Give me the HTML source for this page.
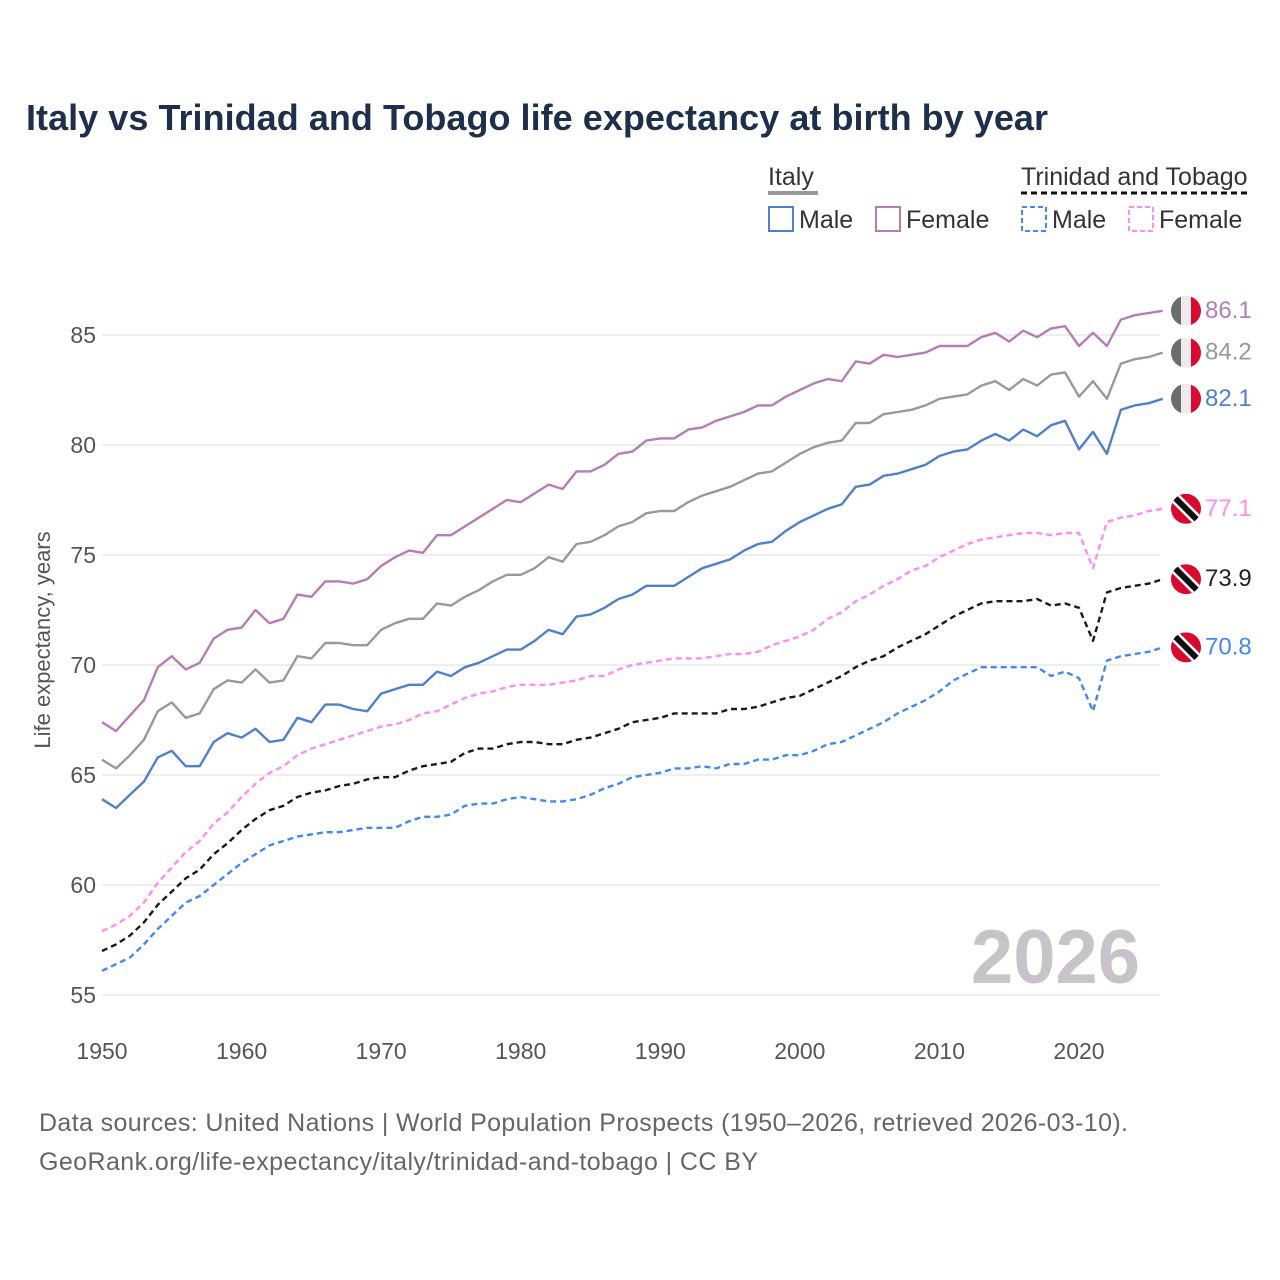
<!DOCTYPE html>
<html><head><meta charset="utf-8"><style>
body{margin:0;background:#fff;}
svg{display:block;font-family:"Liberation Sans",sans-serif;}
</style></head><body>
<svg id="chart" width="1280" height="1280" viewBox="0 0 1280 1280" xmlns="http://www.w3.org/2000/svg">
<rect width="1280" height="1280" fill="#fff"/>
<text x="26" y="130" font-size="36" font-weight="bold" fill="#1d2f4a" textLength="1022">Italy vs Trinidad and Tobago life expectancy at birth by year</text>
<g font-size="25" fill="#333">
<text x="768" y="185">Italy</text>
<line x1="768" y1="193" x2="818" y2="193" stroke="#999" stroke-width="4"/>
<rect x="769" y="207" width="24" height="24" fill="none" stroke="#5080cc" stroke-width="2"/>
<text x="799" y="228">Male</text>
<rect x="876" y="207" width="24" height="24" fill="none" stroke="#b57cb6" stroke-width="2"/>
<text x="906" y="228">Female</text>
<text x="1021" y="185">Trinidad and Tobago</text>
<line x1="1021" y1="193" x2="1249" y2="193" stroke="#111" stroke-width="3" stroke-dasharray="6,4"/>
<rect x="1022" y="207" width="24" height="24" fill="none" stroke="#4488ee" stroke-width="2" stroke-dasharray="5,3"/>
<text x="1052" y="228">Male</text>
<rect x="1129" y="207" width="24" height="24" fill="none" stroke="#ff8cf0" stroke-width="2" stroke-dasharray="5,3"/>
<text x="1159" y="228">Female</text>
</g>
<g id="grid"></g>
<text x="1140" y="983" text-anchor="end" font-size="76" font-weight="bold" fill="#c8c3c8">2026</text>
<text transform="translate(50,640) rotate(-90)" text-anchor="middle" font-size="22" fill="#555">Life expectancy, years</text>
<g id="lines"></g>
<g id="ends"></g>
<text x="39" y="1131" font-size="25" fill="#666" textLength="1089">Data sources: United Nations | World Population Prospects (1950–2026, retrieved 2026-03-10).</text>
<text x="39" y="1170" font-size="25" fill="#666" textLength="719">GeoRank.org/life-expectancy/italy/trinidad-and-tobago | CC BY</text>
</svg>
<script>
const years = Array.from({length:77},(_,i)=>1950+i);
const itFemale=[67.4,67.0,67.7,68.4,69.9,70.4,69.8,70.1,71.2,71.6,71.7,72.5,71.9,72.1,73.2,73.1,73.8,73.8,73.7,73.9,74.5,74.9,75.2,75.1,75.9,75.9,76.3,76.7,77.1,77.5,77.4,77.8,78.2,78.0,78.8,78.8,79.1,79.6,79.7,80.2,80.3,80.3,80.7,80.8,81.1,81.3,81.5,81.8,81.8,82.2,82.5,82.8,83.0,82.9,83.8,83.7,84.1,84.0,84.1,84.2,84.5,84.5,84.5,84.9,85.1,84.7,85.2,84.9,85.3,85.4,84.5,85.1,84.5,85.7,85.9,86.0,86.1];
const itTotal=[65.7,65.3,65.9,66.6,67.9,68.3,67.6,67.8,68.9,69.3,69.2,69.8,69.2,69.3,70.4,70.3,71.0,71.0,70.9,70.9,71.6,71.9,72.1,72.1,72.8,72.7,73.1,73.4,73.8,74.1,74.1,74.4,74.9,74.7,75.5,75.6,75.9,76.3,76.5,76.9,77.0,77.0,77.4,77.7,77.9,78.1,78.4,78.7,78.8,79.2,79.6,79.9,80.1,80.2,81.0,81.0,81.4,81.5,81.6,81.8,82.1,82.2,82.3,82.7,82.9,82.5,83.0,82.7,83.2,83.3,82.2,82.9,82.1,83.7,83.9,84.0,84.2];
const itMale=[63.9,63.5,64.1,64.7,65.8,66.1,65.4,65.4,66.5,66.9,66.7,67.1,66.5,66.6,67.6,67.4,68.2,68.2,68.0,67.9,68.7,68.9,69.1,69.1,69.7,69.5,69.9,70.1,70.4,70.7,70.7,71.1,71.6,71.4,72.2,72.3,72.6,73.0,73.2,73.6,73.6,73.6,74.0,74.4,74.6,74.8,75.2,75.5,75.6,76.1,76.5,76.8,77.1,77.3,78.1,78.2,78.6,78.7,78.9,79.1,79.5,79.7,79.8,80.2,80.5,80.2,80.7,80.4,80.9,81.1,79.8,80.6,79.6,81.6,81.8,81.9,82.1];
const ttFemale=[57.9,58.2,58.6,59.2,60.1,60.8,61.5,62.0,62.8,63.3,64.0,64.6,65.1,65.4,65.9,66.2,66.4,66.6,66.8,67.0,67.2,67.3,67.5,67.8,67.9,68.2,68.5,68.7,68.8,69.0,69.1,69.1,69.1,69.2,69.3,69.5,69.5,69.8,70.0,70.1,70.2,70.3,70.3,70.3,70.4,70.5,70.5,70.6,70.9,71.1,71.3,71.6,72.1,72.4,72.9,73.2,73.6,73.9,74.3,74.5,74.9,75.2,75.5,75.7,75.8,75.9,76.0,76.0,75.9,76.0,76.0,74.4,76.5,76.7,76.8,77.0,77.1];
const ttTotal=[57.0,57.3,57.7,58.3,59.1,59.7,60.3,60.7,61.4,61.9,62.5,63.0,63.4,63.6,64.0,64.2,64.3,64.5,64.6,64.8,64.9,64.9,65.2,65.4,65.5,65.6,66.0,66.2,66.2,66.4,66.5,66.5,66.4,66.4,66.6,66.7,66.9,67.1,67.4,67.5,67.6,67.8,67.8,67.8,67.8,68.0,68.0,68.1,68.3,68.5,68.6,68.9,69.2,69.5,69.9,70.2,70.4,70.8,71.1,71.4,71.8,72.2,72.5,72.8,72.9,72.9,72.9,73.0,72.7,72.8,72.6,71.1,73.3,73.5,73.6,73.7,73.9];
const ttMale=[56.1,56.4,56.7,57.3,58.0,58.6,59.2,59.5,60.0,60.5,61.0,61.4,61.8,62.0,62.2,62.3,62.4,62.4,62.5,62.6,62.6,62.6,62.9,63.1,63.1,63.2,63.6,63.7,63.7,63.9,64.0,63.9,63.8,63.8,63.9,64.1,64.4,64.6,64.9,65.0,65.1,65.3,65.3,65.4,65.3,65.5,65.5,65.7,65.7,65.9,65.9,66.1,66.4,66.5,66.8,67.1,67.4,67.8,68.1,68.4,68.8,69.3,69.6,69.9,69.9,69.9,69.9,69.9,69.5,69.7,69.4,67.9,70.2,70.4,70.5,70.6,70.8];
const yTicks=[55,60,65,70,75,80,85];
const xTicks=[1950,1960,1970,1980,1990,2000,2010,2020];

const NS="http://www.w3.org/2000/svg";
const xs=y=>102+(y-1950)*(977/70);
const ys=v=>335+(85-v)*22;
function mk(tag,attrs,parent){const e=document.createElementNS(NS,tag);for(const k in attrs)e.setAttribute(k,attrs[k]);parent.appendChild(e);return e;}
const grid=document.getElementById('grid');
yTicks.forEach(t=>{
  const l=mk('line',{x1:102,x2:1160,y1:ys(t),y2:ys(t),stroke:'#e8e8e8','stroke-width':1.5},grid);
  
  
  const tx=mk('text',{x:96,y:ys(t)+8,'text-anchor':'end','font-size':23,fill:'#555'},grid);
  
  
  tx.textContent=t;
});
xTicks.forEach(t=>{
  const tx=mk('text',{x:xs(t),y:1059,'text-anchor':'middle','font-size':23,fill:'#555'},grid);
  
  
  tx.textContent=t;
});
const series=[
 {d:itFemale,c:'#b57cb6',dash:null,n:'italy-female-line',flag:'it'},
 {d:itTotal,c:'#999999',dash:null,n:'italy-total-line',flag:'it'},
 {d:itMale,c:'#5080cc',dash:null,n:'italy-male-line',flag:'it'},
 {d:ttFemale,c:'#ff8cf0',dash:'6,4',n:'tt-female-line',flag:'tt'},
 {d:ttTotal,c:'#1a1a1a',dash:'6,4',n:'tt-total-line',flag:'tt'},
 {d:ttMale,c:'#4488ee',dash:'6,4',n:'tt-male-line',flag:'tt'}
];
const lines=document.getElementById('lines'),ends=document.getElementById('ends');
const lblColors={'#999999':'#999','#1a1a1a':'#222'};
series.forEach(s=>{
  const pts=s.d.map((v,i)=>xs(years[i]).toFixed(1)+','+ys(v).toFixed(1)).join(' ');
  const a={points:pts,fill:'none',stroke:s.c,'stroke-width':2.4,'stroke-linejoin':'round'};
  if(s.dash)a['stroke-dasharray']=s.dash;
  const p=mk('polyline',a,lines);
  
  
  const last=s.d[s.d.length-1],cx=1186,cy=ys(last);
  const g=mk('g',{},ends);
  
  
  const cid='c'+s.n;
  const cp=mk('clipPath',{id:cid},g);mk('circle',{cx,cy,r:15},cp);
  const inner=mk('g',{'clip-path':'url(#'+cid+')'},g);
  if(s.flag==='it'){
    mk('rect',{x:cx-15,y:cy-15,width:10,height:30,fill:'#6a6d6a'},inner);
    mk('rect',{x:cx-5,y:cy-15,width:10,height:30,fill:'#eeeaee'},inner);
    mk('rect',{x:cx+5,y:cy-15,width:10,height:30,fill:'#d8082e'},inner);
  }else{
    mk('rect',{x:cx-15,y:cy-15,width:30,height:30,fill:'#d8082e'},inner);
    mk('line',{x1:cx-15,y1:cy-15,x2:cx+15,y2:cy+15,stroke:'#fff',"stroke-width":11},inner);
    mk('line',{x1:cx-15,y1:cy-15,x2:cx+15,y2:cy+15,stroke:'#111',"stroke-width":6},inner);
  }
  const t=mk('text',{x:1205,y:cy+7,'font-size':24,fill:lblColors[s.c]||s.c},g);
  t.textContent=last.toFixed(1);
});
</script>
</body></html>
